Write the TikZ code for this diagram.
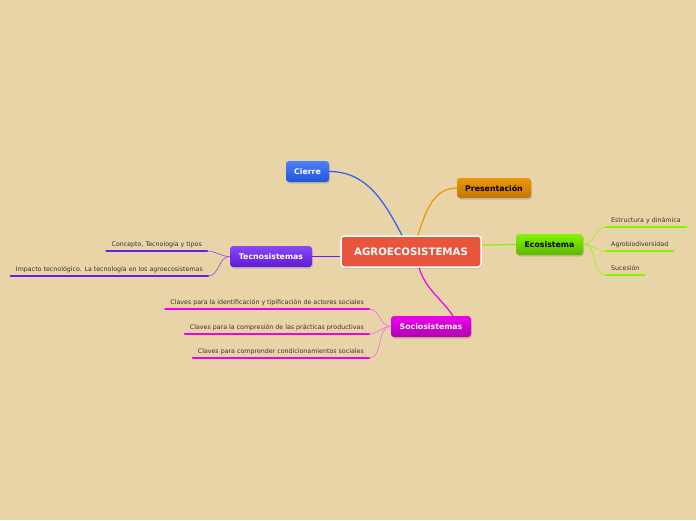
\documentclass[tikz,border=0pt]{standalone}
\usepackage{fontspec}
\setmainfont{DejaVu Sans}
\usetikzlibrary{shadows}

\definecolor{paper}{RGB}{233,212,168}
\definecolor{agro}{RGB}{232,84,60}
\definecolor{cierreC}{RGB}{36,96,245}
\definecolor{presC}{RGB}{232,138,10}
\definecolor{ecoC}{RGB}{110,215,0}
\definecolor{ecoBar}{RGB}{128,245,0}
\definecolor{tecnoC}{RGB}{104,28,240}
\definecolor{socioC}{RGB}{210,0,210}
\definecolor{socioBar}{RGB}{238,0,238}

\tikzset{
  topic/.style={draw=none, rounded corners=3pt, minimum height=21pt, inner xsep=6pt,
    font=\bfseries\fontsize{7.8}{9}\selectfont, text=white,
    drop shadow={shadow xshift=1pt, shadow yshift=-1.5pt, opacity=0.3}},
  leaf/.style={inner xsep=5pt, inner ysep=3pt, text height=5pt, text depth=1.5pt,
    font=\fontsize{6.3}{7}\selectfont, text=black!80},
  link/.style={line width=1.2pt},
  twig/.style={line width=0.6pt},
  bar/.style={line width=2.4pt, line cap=round}
}

\begin{document}
\begin{tikzpicture}[x=1pt,y=-1pt]
\fill[paper] (0,0) rectangle (696,520);

\node[topic, minimum width=140pt, minimum height=31pt, fill=agro, draw=white, line width=1.5pt,
  font=\bfseries\fontsize{10.2}{12}\selectfont] (agr) at (411,251.5) {AGROECOSISTEMAS};
\node[topic, minimum width=43pt, top color=cierreC!80!white, bottom color=cierreC!90!black] (cie) at (307.5,171.5) {Cierre};
\node[topic, minimum width=74pt, minimum height=20pt, top color=presC!90!yellow, bottom color=presC!85!black, text=black] (pre) at (494,188) {Presentación};
\node[topic, minimum width=67pt, top color=ecoBar, bottom color=ecoC!85!black, text=black] (eco) at (549.5,244.5) {Ecosistema};
\node[topic, minimum width=82pt, top color=tecnoC!80!white, bottom color=tecnoC!90!black] (tec) at (271,256.5) {Tecnosistemas};
\node[topic, minimum width=80pt, top color=socioBar, bottom color=socioC!85!black] (soc) at (431,326.5) {Sociosistemas};

% ecosistema
\node[leaf, anchor=south west, minimum width=80pt, text width=70pt] (e1) at (606,227) {Estructura y dinámica};
\node[leaf, anchor=south west, minimum width=67pt, text width=57pt] (e2) at (606,251) {Agrobiodiversidad};
\node[leaf, anchor=south west, minimum width=38pt, text width=28pt] (e3) at (606,275) {Sucesión};

% tecnosistemas
\node[leaf, anchor=south east] (t1) at (207,251) {Concepto, Tecnología y tipos};
\node[leaf, anchor=south east] (t2) at (208,276) {Impacto tecnológico. La tecnología en los agroecosistemas};

% sociosistemas
\node[leaf, anchor=south east] (s1) at (369,309) {Claves para la identificación y tipificación de actores sociales};
\node[leaf, anchor=south east] (s2) at (369,334) {Claves para la compresión de las prácticas productivas};
\node[leaf, anchor=south east] (s3) at (369,358) {Claves para comprender condicionamientos sociales};

\draw[link, cierreC] ([xshift=-9pt]agr.north) to[out=118, in=0] (cie.east);
\draw[link, presC!90!yellow] ([xshift=7pt]agr.north) to[out=72, in=180] (pre.west);
\draw[link, ecoBar] ([yshift=6.5pt]agr.east) to[out=0, in=180] (eco.west);
\draw[link, tecnoC] (agr.west |- tec.east) -- (tec.east);
\draw[link, socioBar] ([xshift=8pt]agr.south) to[out=-72, in=125] ([xshift=22pt]soc.north);

\foreach \n in {e1,e2,e3} {
  \draw[twig, ecoBar!80!yellow] (eco.east) to[out=0, in=180] (\n.south west);
  \draw[bar, ecoBar] (\n.south west) -- (\n.south east);
}
\foreach \n in {t1,t2} {
  \draw[twig, tecnoC!80!white] (tec.west) to[out=180, in=0] (\n.south east);
  \draw[bar, tecnoC] (\n.south west) -- (\n.south east);
}
\foreach \n in {s1,s2,s3} {
  \draw[twig, socioBar!60!white] (soc.west) to[out=180, in=0] (\n.south east);
  \draw[bar, socioBar] (\n.south west) -- (\n.south east);
}
\end{tikzpicture}
\end{document}
